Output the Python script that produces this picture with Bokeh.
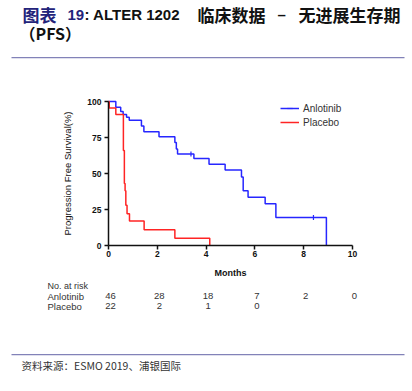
from bokeh.plotting import figure
from bokeh.models import Range1d, FixedTicker, Label, BoxAnnotation, Legend, LegendItem
from bokeh.embed import file_html
from bokeh.resources import INLINE
import numpy as np

# ---- data ----
anl_t = [0, 0.3, 0.5, 0.6, 0.74, 0.85, 1.35, 1.45, 2.07, 2.72, 2.78, 2.83, 3.5, 4.12, 4.78, 5.45, 5.52, 5.72, 6.42, 6.86, 8.93]
anl_s = [100, 96, 93, 91, 89, 87, 83, 79, 75.5, 71.5, 67, 63.5, 60.5, 56.5, 52.5, 47.5, 38, 33.5, 29, 19.5, 0]
anl_cens_t = [3.38, 8.4]
anl_cens_s = [63.5, 19.5]

plc_t = [0, 0.03, 0.3, 0.61, 0.65, 0.68, 0.71, 0.76, 0.86, 1.46, 2.72, 4.15]
plc_s = [100, 95.5, 91, 66, 43, 38, 28, 22, 17, 11, 5, 0]

risk_months = [0, 2, 4, 6, 8, 10]
anl_risk = [46, 28, 18, 7, 2, 0]
plc_risk = [22, 2, 1, 0]

x_ticks = [0, 2, 4, 6, 8, 10]
y_ticks = [0, 25, 50, 75, 100]

BLUE = "#2626ff"
RED = "#ff2424"
RULE = "#8282b8"
NAVY = "#23237a"
TXT = "#111111"
GREY = "#333333"

# ---- layout geometry (pixels) ----
W, H = 412, 391
AX_LEFT, AX_RIGHT = 108, 352      # x = 0 and x = 10 months
AX_TOP, AX_BOTTOM = 101, 245      # y = 100 % and y = 0 %
ppx = (AX_RIGHT - AX_LEFT) / 10.0
ppy = (AX_BOTTOM - AX_TOP) / 100.0

p = figure(width=W, height=H, min_border=0,
           x_range=Range1d(-AX_LEFT / ppx, (W - AX_LEFT) / ppx),
           y_range=Range1d(-(H - AX_BOTTOM) / ppy, AX_BOTTOM / ppy),
           output_backend="svg", toolbar_location=None)
p.outline_line_color = None
p.grid.grid_line_color = None
p.background_fill_color = "white"
p.border_fill_color = "white"

for ax in (p.xaxis[0], p.yaxis[0]):
    ax.fixed_location = 0
    ax.axis_line_width = 1.5
    ax.axis_line_color = TXT
    ax.major_tick_line_width = 1.5
    ax.major_tick_line_color = TXT
    ax.major_tick_out = 4
    ax.major_tick_in = 0
    ax.minor_tick_line_color = None
    ax.major_label_text_font = "Liberation Sans"
    ax.major_label_text_font_style = "bold"
    ax.major_label_text_font_size = "8.5px"
    ax.major_label_text_color = TXT
    ax.axis_label_text_font = "Liberation Sans"
    ax.axis_label_text_color = TXT

p.xaxis.bounds = (0, 10)
p.yaxis.bounds = (0, 100)
p.xaxis.ticker = FixedTicker(ticks=x_ticks)
p.yaxis.ticker = FixedTicker(ticks=y_ticks)
p.xaxis.major_label_standoff = 1
p.yaxis.major_label_standoff = 3
p.xaxis.axis_label = "Months"
p.xaxis.axis_label_text_font_style = "bold"
p.xaxis.axis_label_text_font_size = "9px"
p.xaxis.axis_label_standoff = 8
p.yaxis.axis_label = "Progression Free Survival(%)"
p.yaxis.axis_label_text_font_style = "normal"
p.yaxis.axis_label_text_font_size = "9.5px"
p.yaxis.axis_label_standoff = 11

r_anl = p.step(anl_t, anl_s, mode="after", line_color=BLUE, line_width=1.5)
r_plc = p.step(plc_t, plc_s, mode="after", line_color=RED, line_width=1.5)
c_anl = p.scatter(anl_cens_t, anl_cens_s, marker="dash", angle=np.pi / 2, size=5,
                  line_color=BLUE, line_width=1.2)
c_plc = p.scatter([], [], marker="dash", angle=np.pi / 2, size=5, line_color=RED, line_width=1.2)

legend = Legend(items=[LegendItem(label="Anlotinib", renderers=[r_anl, c_anl]),
                       LegendItem(label="Placebo", renderers=[r_plc, c_plc])],
                location=(280, H - 129), padding=0, margin=0, spacing=0,
                glyph_width=19, glyph_height=14, label_height=14, label_standoff=4,
                label_text_font="Liberation Sans", label_text_font_size="10px",
                label_text_color=GREY, background_fill_alpha=0,
                border_line_color=None)
p.add_layout(legend, "center")


def lab(text, px, py, size, color=TXT, font="Liberation Sans", style="normal"):
    p.add_layout(Label(x=px, y=H - py, x_units="screen", y_units="screen", text=text,
                       text_font=font, text_font_size=size, text_font_style=style,
                       text_color=color, text_align="left", text_baseline="middle"))


def rule(py):
    p.add_layout(BoxAnnotation(left=11, right=404, top=H - py + 0.6, bottom=H - py - 0.6,
                               left_units="screen", right_units="screen", top_units="screen",
                               bottom_units="screen", fill_color=RULE, fill_alpha=1,
                               line_color=None))


# title
lab("图表", 22, 14, "17px", NAVY, "Noto Sans CJK SC", "bold")
lab("19", 67, 14, "15px", NAVY, "Liberation Sans", "bold")
lab(": ALTER 1202", 84, 14, "15px", TXT, "Liberation Sans", "bold")
lab("临床数据", 197, 14, "17px", TXT, "Noto Sans CJK SC", "bold")
lab("–", 277, 14, "15px", TXT, "Liberation Sans", "bold")
lab("无进展生存期", 298, 14, "17px", TXT, "Noto Sans CJK SC", "bold")
lab("（PFS）", 19, 32, "16px", TXT, "Noto Sans CJK SC", "bold")
rule(57.2)

# risk table
lab("No. at risk", 47, 285, "9px", GREY)
lab("Anlotinib", 47, 295.5, "9.5px", GREY)
lab("Placebo", 47, 305.5, "9.5px", GREY)
for m, v in zip(risk_months, anl_risk):
    p.add_layout(Label(x=m, y=H - 295.5, x_units="data", y_units="screen", text=str(v), x_offset=2,
                       text_font="Liberation Sans", text_font_size="9.5px", text_color=GREY,
                       text_align="center", text_baseline="middle"))
for m, v in zip(risk_months, plc_risk):
    p.add_layout(Label(x=m, y=H - 305.5, x_units="data", y_units="screen", text=str(v), x_offset=2,
                       text_font="Liberation Sans", text_font_size="9.5px", text_color=GREY,
                       text_align="center", text_baseline="middle"))

# footer
rule(354.2)
lab("资料来源：ESMO 2019、浦银国际", 21, 365, "10.5px", GREY, "Noto Sans CJK SC", "normal")

open("out.html", "w").write(file_html(p, INLINE))
